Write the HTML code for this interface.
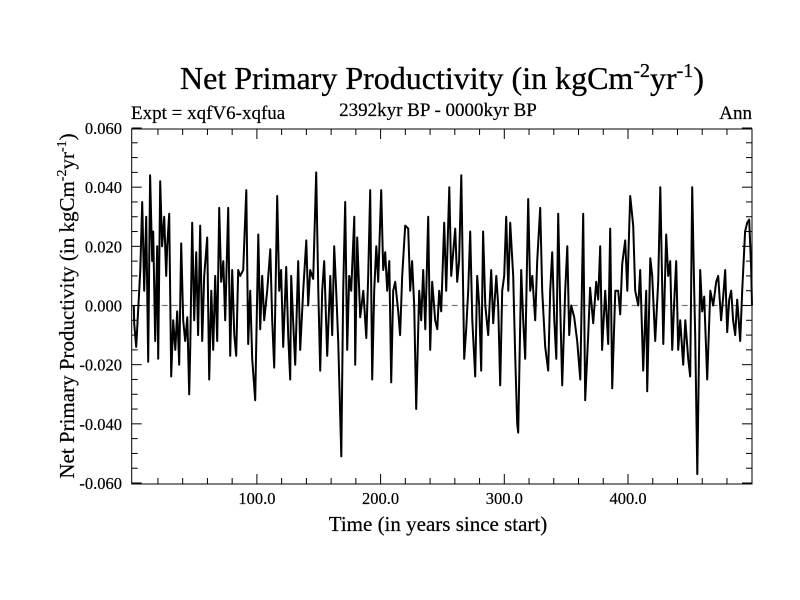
<!DOCTYPE html>
<html><head><meta charset="utf-8"><style>
html,body{margin:0;padding:0;background:#fff;}
svg{display:block;font-family:"Liberation Serif",serif;}
</style></head><body>
<svg id="chart" width="800" height="600" viewBox="0 0 800 600">
<text x="442" y="89" font-size="32" text-anchor="middle" stroke="#000" stroke-width="0.3">Net Primary Productivity (in kgCm<tspan dy="-12" font-size="20">-2</tspan><tspan dy="12">yr</tspan><tspan dy="-12" font-size="20">-1</tspan><tspan dy="12">)</tspan></text>
<text x="438" y="116" font-size="19" text-anchor="middle" stroke="#000" stroke-width="0.2">2392kyr BP - 0000kyr BP</text>
<text x="131" y="119" font-size="19" stroke="#000" stroke-width="0.2">Expt = xqfV6-xqfua</text>
<text x="752" y="119" font-size="19" text-anchor="end" stroke="#000" stroke-width="0.2">Ann</text>
<text x="438" y="531" font-size="21" text-anchor="middle" stroke="#000" stroke-width="0.2">Time (in years since start)</text>
<text transform="translate(74,306) rotate(-90)" font-size="21" text-anchor="middle" stroke="#000" stroke-width="0.2">Net Primary Productivity (in kgCm<tspan dy="-8" font-size="14">-2</tspan><tspan dy="8">yr</tspan><tspan dy="-8" font-size="14">-1</tspan><tspan dy="8">)</tspan></text>
<g id="axes"></g>
<g id="series"></g>
<rect x="131.7" y="129" width="620.3" height="355" fill="none" stroke="#000" stroke-width="1"/>
</svg>
<script>
const years = [0.5,0.8,2.4,4.0,5.7,7.3,8.9,10.5,12.1,13.7,15.4,16.2,17.8,19.4,20.2,21.8,23.4,25.1,26.7,27.5,29.1,30.7,32.3,34.0,35.6,37.2,38.8,40.4,42.0,43.7,45.3,46.1,47.7,49.3,50.9,52.5,54.2,55.8,57.4,59.8,61.4,63.1,64.7,66.3,67.9,69.5,71.1,72.8,74.4,76.8,78.4,80.0,81.7,83.3,84.9,86.5,88.9,91.4,93.0,94.6,96.2,98.6,101.1,102.7,104.3,105.9,108.3,110.8,112.4,114.0,116.4,118.0,119.6,121.3,123.7,125.3,126.9,127.7,129.3,131.0,133.4,135.0,137.4,139.9,141.5,143.1,145.5,147.9,149.6,151.2,152.8,154.4,156.8,159.3,160.9,162.5,164.1,165.7,168.2,169.8,171.4,173.0,174.6,176.2,178.7,179.5,181.1,182.7,183.5,186.0,188.4,190.0,191.6,193.2,194.8,196.5,198.1,200.5,202.1,203.7,205.3,207.0,208.6,210.2,211.8,214.2,215.8,217.5,219.9,222.3,223.9,225.5,227.2,228.8,231.2,232.8,234.4,236.1,238.5,240.1,241.7,244.1,245.8,247.4,249.0,251.4,253.0,255.5,257.1,258.7,260.3,261.9,263.5,265.2,267.6,269.2,270.8,272.4,274.1,276.5,278.1,279.7,281.3,282.9,284.6,287.0,289.4,291.0,293.5,295.1,296.7,298.3,299.9,301.5,303.2,304.8,307.2,308.8,310.4,311.2,313.7,315.3,316.9,319.3,320.9,322.6,325.0,326.6,329.0,330.6,333.1,335.5,337.1,338.7,340.4,342.0,343.6,345.2,346.8,349.2,350.9,352.5,354.1,356.5,358.9,361.4,363.8,365.4,367.8,369.4,371.9,374.3,375.9,377.5,379.1,381.6,384.0,385.6,387.2,389.7,392.1,393.7,395.3,397.7,399.4,401.8,404.2,405.8,408.3,409.9,412.3,414.7,415.5,418.0,419.6,422.0,424.4,426.1,428.5,430.9,432.5,434.1,435.7,437.4,439.0,440.6,442.2,444.6,446.3,448.7,450.3,451.9,453.5,454.3,456.0,458.4,460.0,461.6,464.0,466.5,468.9,471.3,472.9,475.3,477.0,478.6,480.2,481.8,483.4,485.0,486.7,488.3,490.7,492.3,494.7,496.4,498.0,499.6,500.3];
const values = [0.000,-0.006,-0.014,-0.002,0.012,0.035,0.005,0.030,-0.019,0.044,0.015,0.025,-0.012,0.020,-0.018,0.042,0.020,0.030,0.010,0.020,0.031,-0.024,-0.005,-0.015,-0.002,-0.020,0.021,-0.005,-0.012,-0.004,-0.030,-0.015,0.028,-0.005,0.018,-0.010,0.027,-0.012,0.010,0.023,-0.025,0.005,-0.015,0.010,-0.012,0.033,0.008,0.015,-0.005,0.033,-0.017,0.012,-0.010,-0.017,0.012,0.010,0.012,0.039,-0.013,0.005,-0.018,-0.032,0.024,-0.008,0.010,-0.005,0.005,0.019,-0.005,-0.021,0.037,0.005,0.012,-0.014,0.013,-0.010,-0.025,0.010,-0.005,-0.020,0.015,-0.015,0.005,0.022,0.000,0.012,0.009,0.045,0.005,-0.022,0.005,0.015,-0.017,0.010,-0.010,0.020,0.005,-0.012,-0.051,0.005,0.035,-0.015,0.010,0.005,0.030,-0.020,0.023,0.005,-0.004,0.005,-0.011,0.010,0.039,-0.025,0.005,0.020,0.008,0.039,0.012,0.018,0.005,0.015,-0.026,0.005,0.008,-0.002,-0.010,0.010,0.027,0.026,0.005,0.015,0.000,-0.035,0.005,-0.005,0.012,-0.008,0.030,-0.015,0.008,-0.005,-0.008,0.005,-0.002,0.028,0.005,0.040,0.010,0.018,0.026,0.008,0.015,0.044,-0.018,-0.008,0.005,0.025,-0.005,-0.024,0.010,0.000,-0.022,0.025,0.000,-0.010,0.012,-0.006,0.010,0.000,-0.027,0.005,0.010,0.030,0.005,0.028,0.010,-0.017,-0.040,-0.043,0.012,-0.005,-0.018,0.036,0.005,0.010,-0.005,0.015,0.033,0.005,-0.014,-0.022,0.005,0.018,-0.005,-0.018,0.031,0.000,-0.027,0.005,0.020,-0.010,0.000,-0.004,-0.012,-0.025,0.031,-0.032,-0.010,0.006,-0.006,0.008,0.002,0.020,-0.015,0.005,-0.013,0.026,-0.028,0.005,0.005,-0.003,0.014,0.022,0.005,0.037,0.027,0.005,0.000,0.012,-0.022,0.005,-0.029,0.016,0.010,-0.012,0.008,0.040,-0.013,0.024,0.010,0.015,-0.015,0.002,0.015,-0.015,-0.005,-0.020,-0.005,-0.018,-0.024,0.040,0.005,-0.010,-0.057,0.012,-0.002,0.003,-0.025,0.005,0.000,0.008,0.010,-0.005,0.003,0.012,-0.009,0.002,0.005,-0.005,-0.010,0.002,-0.012,0.005,0.025,0.028,0.029,0.012,0.000];
const xTickValues = [100,200,300,400];
const xTickLabels = ["100.0","200.0","300.0","400.0"];
const yTickValues = [0.06,0.04,0.02,0,-0.02,-0.04,-0.06];
const yTickLabels = ["0.060","0.040","0.020","0.000","-0.020","-0.040","-0.060"];

const L=131.7,R=752,T=129,B=484;
function xs(v){return 133.2+1.237*v;}
function ys(v){return 305.5-v*(B-T)/0.12;}
const NS='http://www.w3.org/2000/svg';
const axes=document.getElementById('axes'), ser=document.getElementById('series');
function mk(tag,attrs,parent){const e=document.createElementNS(NS,tag);for(const k in attrs)e.setAttribute(k,attrs[k]);parent.appendChild(e);return e;}

const zl=mk('line',{x1:L,x2:R,y1:ys(0),y2:ys(0),stroke:'#777','stroke-width':1.3,'stroke-dasharray':'6,4'},axes);



for(let v=-0.06;v<=0.0601;v+=0.005){
  const y=ys(v), maj=Math.abs(Math.round(v*1000)%20)===0;
  const len=maj?10:6;
  const t1=mk('line',{x1:L,x2:L+len,y1:y,y2:y,stroke:'#000','stroke-width':1},axes);
  
  
  const t2=mk('line',{x1:R,x2:R-len,y1:y,y2:y,stroke:'#000','stroke-width':1},axes);
  
  
}
yTickValues.forEach((v,i)=>{
  const t=mk('text',{x:122,y:ys(v)+6,'font-size':16.5,'text-anchor':'end',stroke:'#000','stroke-width':0.2},axes);
  t.textContent=yTickLabels[i];
  
  
});
for(let v=20;v<=480;v+=20){
  const x=xs(v), maj=v%100===0, len=maj?10:6;
  const a=mk('line',{x1:x,x2:x,y1:B,y2:B-len,stroke:'#000','stroke-width':1},axes);
  
  
  const b=mk('line',{x1:x,x2:x,y1:T,y2:T+len,stroke:'#000','stroke-width':1},axes);
  
  
}
xTickValues.forEach((v,i)=>{
  const t=mk('text',{x:xs(v),y:504,'font-size':16.5,'text-anchor':'middle',stroke:'#000','stroke-width':0.2},axes);
  t.textContent=xTickLabels[i];
  
  
});
let d='';
years.forEach((yr,i)=>{d+=(i?'L':'M')+Math.min(xs(yr),R).toFixed(1)+','+ys(values[i]).toFixed(1);});
const p=mk('path',{d:d,fill:'none',stroke:'#000','stroke-width':2,'stroke-linejoin':'round'},ser);


</script>
</body></html>
